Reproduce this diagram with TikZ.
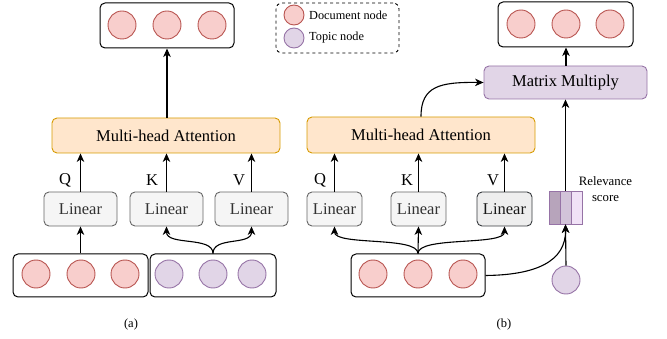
\documentclass[tikz,border=0pt]{standalone}
\usepackage{fontspec}
\setmainfont{Liberation Serif}
\usetikzlibrary{arrows.meta}
\definecolor{docfill}{HTML}{F8CECC}
\definecolor{docline}{HTML}{B85450}
\definecolor{topfill}{HTML}{E1D5E7}
\definecolor{topline}{HTML}{9673A6}
\definecolor{attfill}{HTML}{FFE6CC}
\definecolor{attline}{HTML}{D79B00}
\definecolor{linfill}{HTML}{F5F5F5}
\definecolor{linline}{HTML}{666666}
\definecolor{lintext}{HTML}{333333}
\definecolor{darkfill}{HTML}{EEEEEE}
\definecolor{darkline}{HTML}{36393D}
\definecolor{relA}{HTML}{B7A4BB}
\definecolor{relB}{HTML}{D2C3D9}
\definecolor{relC}{HTML}{F1E2F7}
\tikzset{
  bigfont/.style={font=\fontsize{16.5}{19}\selectfont},
  smallfont/.style={font=\fontsize{12.5}{15}\selectfont},
  docnode/.style={circle, draw=docline, fill=docfill, line width=0.9pt, minimum size=28pt, inner sep=0pt},
  topnode/.style={circle, draw=topline, fill=topfill, line width=0.9pt, minimum size=28pt, inner sep=0pt},
  holder/.style={rectangle, rounded corners=5pt, draw=black, line width=1pt, inner sep=0pt},
  attbox/.style={rectangle, rounded corners=5pt, draw=attline, fill=attfill, line width=0.9pt, inner sep=0pt, bigfont},
  mmbox/.style={rectangle, rounded corners=5pt, draw=topline, fill=topfill, line width=0.9pt, inner sep=0pt, bigfont},
  linbox/.style={rectangle, rounded corners=5pt, draw=linline, fill=linfill, text=lintext, line width=0.9pt, inner sep=0pt, minimum height=34pt, bigfont},
  linboxdark/.style={rectangle, rounded corners=5pt, draw=darkline, fill=darkfill, text=black!90, line width=0.9pt, inner sep=0pt, minimum height=34pt, bigfont},
  qkv/.style={inner sep=0pt, bigfont},
  relseg/.style={rectangle, draw=topline, line width=0.8pt, minimum width=11pt, minimum height=33pt, inner sep=0pt},
  arr/.style={-{Stealth[length=8.5pt,width=7.5pt,inset=2.5pt]}, line width=1.1pt},
  plain/.style={line width=1pt}
}
\begin{document}
\begin{tikzpicture}[x=1pt,y=-1pt]
\useasboundingbox (0,0) rectangle (667,339);

% ---------------- (a) ----------------
\node[holder, minimum width=134pt, minimum height=45pt] (topA) at (167,25.5) {};
\node[docnode] (tA1) at (122,25) {};
\node[docnode] (tA2) at (167,25) {};
\node[docnode] (tA3) at (212,25) {};

\node[attbox, minimum width=228pt, minimum height=35pt] (mhaA) at (166,135.5) {Multi-head Attention};

\node[linbox, minimum width=73pt] (linA1) at (80.5,209) {Linear};
\node[linbox, minimum width=73pt] (linA2) at (166.5,209) {Linear};
\node[linbox, minimum width=73pt] (linA3) at (251.5,209) {Linear};

\node[qkv] (qA) at (65,180) {Q};
\node[qkv] (kA) at (152,180) {K};
\node[qkv] (vA) at (239,180) {V};

\node[holder, minimum width=135pt, minimum height=43pt] (docA) at (80.5,275.5) {};
\node[docnode] (dA1) at (36,274) {};
\node[docnode] (dA2) at (81,274) {};
\node[docnode] (dA3) at (125,274) {};

\node[holder, minimum width=126pt, minimum height=43pt] (topicA) at (213,275.5) {};
\node[topnode] (pA1) at (169,274) {};
\node[topnode] (pA2) at (213,274) {};
\node[topnode] (pA3) at (252,274) {};

\node[smallfont] (capA) at (131,324) {(a)};

\draw[arr] (mhaA.north -| topA.south) -- (topA.south);
\draw[arr] (linA1.north) -- (linA1.north |- mhaA.south);
\draw[arr] (linA2.north) -- (linA2.north |- mhaA.south);
\draw[arr] (linA3.north) -- (linA3.north |- mhaA.south);
\draw[arr] (docA.north) -- (linA1.south);
\draw[arr] (topicA.north) .. controls (213,236) and (166.5,246) .. (linA2.south);
\draw[arr] (topicA.north) .. controls (213,236) and (251.5,246) .. (linA3.south);

% ---------------- legend ----------------
\node[rectangle, rounded corners=6pt, draw=black, dashed, line width=0.9pt, minimum width=123pt, minimum height=50pt, inner sep=0pt] (legend) at (337.5,28) {};
\node[circle, draw=docline, fill=docfill, line width=0.9pt, minimum size=20pt, inner sep=0pt] (legDoc) at (294,15) {};
\node[circle, draw=topline, fill=topfill, line width=0.9pt, minimum size=20pt, inner sep=0pt] (legTop) at (294,38) {};
\node[anchor=west, inner sep=0pt, font=\fontsize{12.3}{14}\selectfont] (legDocT) at (309,15) {Document node};
\node[anchor=west, inner sep=0pt, font=\fontsize{12.3}{14}\selectfont] (legTopT) at (309,38) {Topic node};

% ---------------- (b) ----------------
\node[holder, minimum width=135pt, minimum height=45pt] (topB) at (565.5,24.5) {};
\node[docnode] (tB1) at (521,24) {};
\node[docnode] (tB2) at (566,24) {};
\node[docnode] (tB3) at (610,24) {};

\node[mmbox, minimum width=163pt, minimum height=33pt] (mm) at (565.5,82.5) {Matrix Multiply};

\node[attbox, minimum width=228pt, minimum height=36pt] (mhaB) at (421,135) {Multi-head Attention};

\node[linbox, minimum width=55pt] (linB1) at (334.5,209) {Linear};
\node[linbox, minimum width=55pt] (linB2) at (418.5,209) {Linear};
\node[linboxdark, minimum width=55pt] (linB3) at (504.5,209) {Linear};

\node[qkv] (qB) at (320,180) {Q};
\node[qkv] (kB) at (407,180) {K};
\node[qkv] (vB) at (493,180) {V};

\node[holder, minimum width=134pt, minimum height=43pt] (docB) at (418,275.5) {};
\node[docnode] (dB1) at (373,274) {};
\node[docnode] (dB2) at (418,274) {};
\node[docnode] (dB3) at (463,274) {};

\node[relseg, fill=relA] (rel1) at (554.5,207.5) {};
\node[relseg, fill=relB] (rel2) at (565.5,207.5) {};
\node[relseg, fill=relC] (rel3) at (576.5,207.5) {};
\node[align=center, inner sep=0pt, font=\fontsize{12.8}{16}\selectfont] (relT) at (605.5,189) {Relevance\\score};

\node[topnode] (topicB) at (566,280) {};

\node[smallfont] (capB) at (504,324) {(b)};

\draw[arr] (mm.north -| tB2) -- (tB2 |- topB.south);
\draw[arr] (rel2.north) -- (rel2.north |- mm.south);
\draw[arr] (mhaB.north) .. controls (421,86) and (440,82) .. (mm.west);
\draw[arr] (linB1.north) -- (linB1.north |- mhaB.south);
\draw[arr] (linB2.north) -- (linB2.north |- mhaB.south);
\draw[arr] (linB3.north) -- (linB3.north |- mhaB.south);
\draw[arr] (docB.north) -- (linB2.south);
\draw[arr] (docB.north) .. controls (418,236) and (334.5,246) .. (linB1.south);
\draw[arr] (docB.north) .. controls (418,236) and (504.5,246) .. (linB3.south);
\draw[arr] (topicB.north) -- (rel2.south);
\draw[arr] (docB.east) .. controls (535,275) and (566,262) .. (rel2.south);
\end{tikzpicture}
\end{document}
